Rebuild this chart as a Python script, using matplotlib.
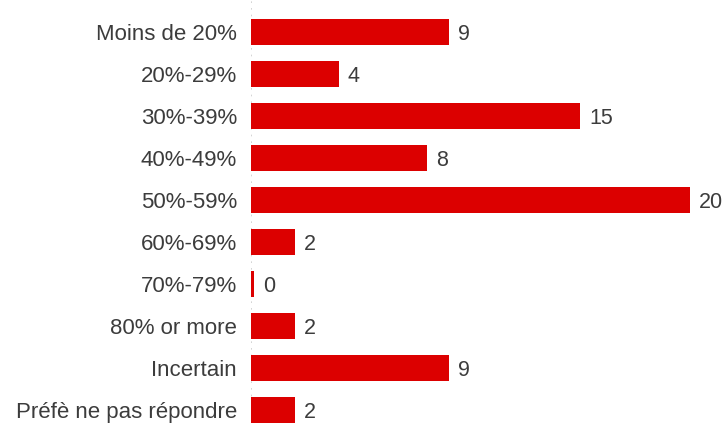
import matplotlib.pyplot as plt

categories = ["Moins de 20%", "20%-29%", "30%-39%", "40%-49%", "50%-59%",
              "60%-69%", "70%-79%", "80% or more", "Incertain", "Préfè ne pas répondre"]
values = [9, 4, 15, 8, 20, 2, 0, 2, 9, 2]

plt.rcParams["font.family"] = ["Liberation Sans", "DejaVu Sans"]

fig = plt.figure(figsize=(7.25, 4.23), dpi=100)
ax = fig.add_axes([251 / 725, 0, 474 / 725, 1])

y = list(range(len(categories)))
# petite barre visible pour la valeur 0
widths = [v if v > 0 else 0.12 for v in values]
ax.barh(y, widths, height=0.64, color="#dc0000", edgecolor="none", zorder=2)

ax.axvline(0, color="#cccccc", linestyle=(0, (1, 3)), linewidth=1.2, zorder=1)

for yi, v, w in zip(y, values, widths):
    ax.annotate(str(v), (w, yi), xytext=(6.5, 0), textcoords="offset points",
                ha="left", va="center_baseline", fontsize=15.5, color="#3c3c3c")

ax.set_xlim(0, 474 / 21.95)
ax.set_ylim((423 - 32) / 42, -32 / 42)
ax.set_yticks(y)
ax.set_yticklabels(categories, fontsize=16, color="#3c3c3c")
ax.tick_params(axis="y", length=0, pad=10)
ax.set_xticks([])
for s in ax.spines.values():
    s.set_visible(False)

fig.savefig("out.png", dpi=100)
